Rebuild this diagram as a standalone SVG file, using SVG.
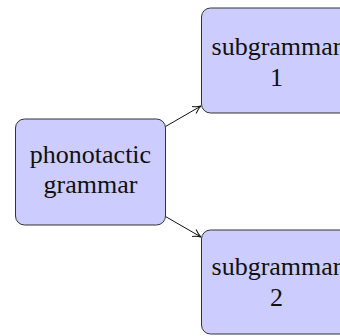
<svg xmlns="http://www.w3.org/2000/svg" width="340" height="336" viewBox="0 0 340 336">
<style>
.node{fill:#ccccff;stroke:#333;stroke-width:1}
.lbl{font-family:"Liberation Serif","Times New Roman",serif;font-size:26px;fill:#111;text-anchor:middle}
.edge{stroke:#111;stroke-width:1;fill:none}
</style>
<defs>
<marker id="arr" viewBox="0 0 10 10" refX="9" refY="5" markerWidth="10" markerHeight="10" markerUnits="userSpaceOnUse" orient="auto">
<path d="M1,1 Q5,4 9,5 Q5,6 1,9" fill="none" stroke="#111" stroke-width="1"/>
</marker>
</defs>
<g id="connectors">
<line class="edge" x1="165.5" y1="126.5" x2="201" y2="106" marker-end="url(#arr)"/>
<line class="edge" x1="165.5" y1="216.5" x2="201" y2="237" marker-end="url(#arr)"/>
</g>
<g id="phonotactic">
<rect class="node" x="15.5" y="119" width="150" height="106" rx="9"/>
<text class="lbl" x="90.5" y="163">phonotactic</text>
<text class="lbl" x="90.5" y="193">grammar</text>
</g>
<g id="sub1">
<rect class="node" x="201.5" y="8" width="150" height="105" rx="9"/>
<text class="lbl" x="276.5" y="55">subgrammar</text>
<text class="lbl" x="276.5" y="86">1</text>
</g>
<g id="sub2">
<rect class="node" x="201.5" y="230" width="150" height="104" rx="9"/>
<text class="lbl" x="276.5" y="275">subgrammar</text>
<text class="lbl" x="276.5" y="306">2</text>
</g>
</svg>
